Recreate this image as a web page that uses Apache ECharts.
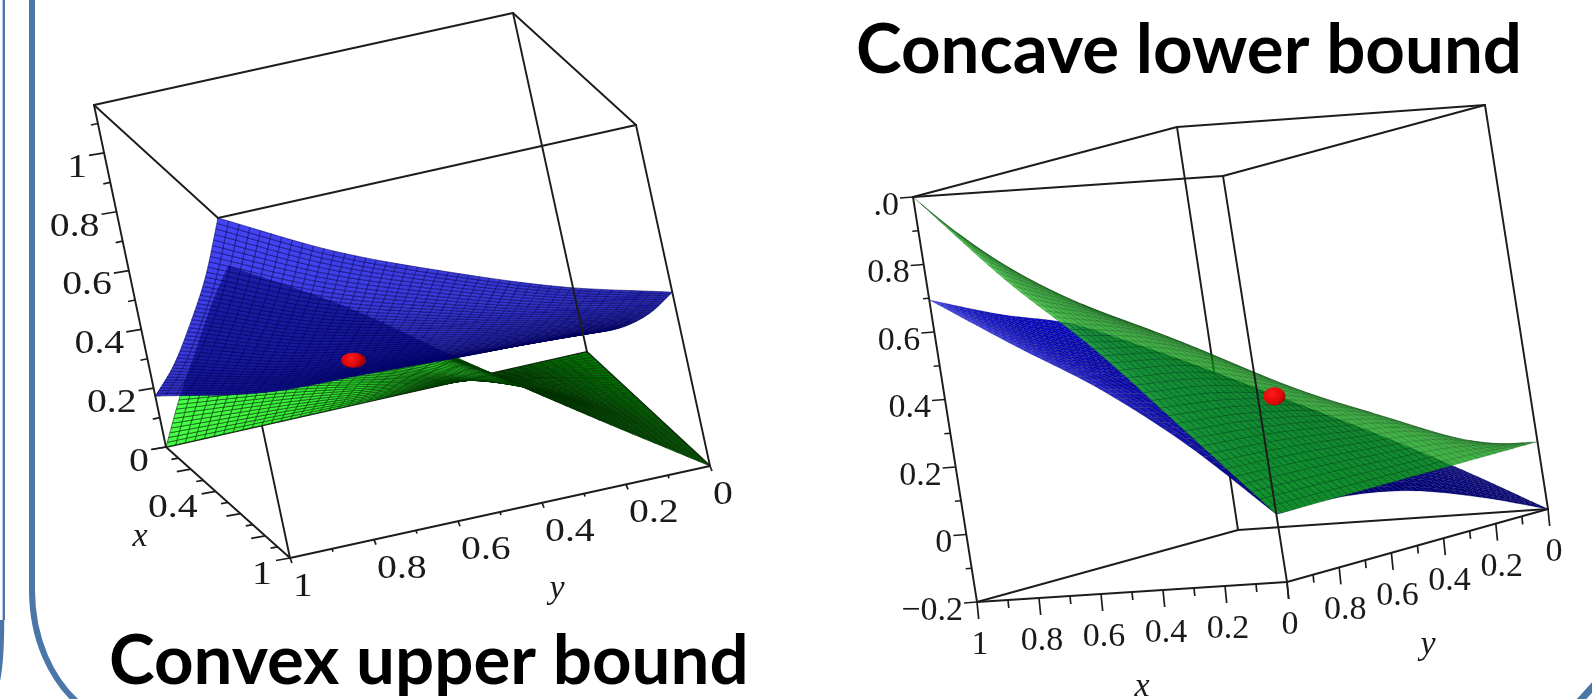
<!DOCTYPE html>
<html>
<head>
<meta charset="utf-8">
<style>html,body{margin:0;padding:0;background:#fff;overflow:hidden}#c{width:1592px;height:699px}</style>
<script src="https://cdn.jsdelivr.net/npm/echarts@6/dist/echarts.min.js"></script>
</head>
<body>
<div id="c"></div>
<script>
// ---------- values ----------
const gridSteps = [0, 0.25, 0.5, 0.75, 1];
// rows: x = gridSteps, columns: y = gridSteps
const leftBlueZ = [
  [0.069, 0.075, 0.09, 0.105, 0.173],
  [0.17, 0.195, 0.234, 0.279, 0.374],
  [0.29, 0.337, 0.405, 0.484, 0.61],
  [0.43, 0.50, 0.596, 0.708, 0.865],
  [0.593, 0.69, 0.82, 0.97, 1.163]
];
const leftGreenZ = [
  [0, 0, 0, 0, 0],
  [0, 0.085, 0.15, 0.22, 0.27],
  [0, 0.15, 0.29, 0.42, 0.52],
  [0, 0.215, 0.43, 0.62, 0.77],
  [0, 0.25, 0.51, 0.78, 1.0]
];
const rightBlueZ = [
  [-0.2, -0.11, -0.038, -0.002, 0],
  [-0.07, 0.04, 0.13, 0.187, 0.22],
  [0.05, 0.17, 0.275, 0.346, 0.4],
  [0.16, 0.285, 0.395, 0.472, 0.544],
  [0.27, 0.40, 0.52, 0.6, 0.695]
];
const rightGreenZ = [
  [0, 0, 0, 0, 0],
  [0, 0.14, 0.2, 0.24, 0.262],
  [0, 0.21, 0.37, 0.47, 0.52],
  [0, 0.24, 0.47, 0.62, 0.742],
  [0, 0.26, 0.5, 0.75, 1.0]
];
const leftRedPoint = [0.34, 0.61, 0.3];
const rightRedPoint = [0.47, 0.40, 0.25];

const leftZTickValues = [0, 0.1, 0.2, 0.3, 0.4, 0.5, 0.6, 0.7, 0.8, 0.9, 1, 1.1];
const leftXTickValues = [0, 0.1, 0.2, 0.3, 0.4, 0.5, 0.6, 0.7, 0.8, 0.9, 1];
const leftYTickValues = [0, 0.1, 0.2, 0.3, 0.4, 0.5, 0.6, 0.7, 0.8, 0.9, 1];
const rightZTickValues = [-0.2, -0.1, 0, 0.1, 0.2, 0.3, 0.4, 0.5, 0.6, 0.7, 0.8, 0.9, 1];
const rightXTickValues = [0, 0.1, 0.2, 0.3, 0.4, 0.5, 0.6, 0.7, 0.8, 0.9, 1];
const rightYTickValues = [0, 0.1, 0.2, 0.3, 0.4, 0.5, 0.6, 0.7, 0.8, 0.9, 1];

const leftZLabels = ['0', '0.2', '0.4', '0.6', '0.8', '1'];
const leftXLabels = ['0.4', '1'];
const leftYLabels = ['0', '0.2', '0.4', '0.6', '0.8', '1'];
const rightZLabels = ['\u22120.2', '0', '0.2', '0.4', '0.6', '0.8', '.0'];
const rightXLabels = ['0', '0.2', '0.4', '0.6', '0.8', '1'];
const rightYLabels = ['0', '0.2', '0.4', '0.6', '0.8'];
const leftTitle = 'Convex upper bound';
const rightTitle = 'Concave lower bound';

// ---------- layout: the two boxes as the picture projects them ----------
const leftBox = {
  zMin: 0, zMax: 1.163,
  b00: [587, 352], b01: [166, 447], b10: [710, 466], b11: [290, 558],
  t00: [513, 13], t01: [94, 105], t10: [636, 125], t11: [218, 218]
};
const rightBox = {
  zMin: -0.2, zMax: 1.0,
  b00: [1548, 509], b01: [1287, 582], b10: [1238, 530], b11: [977, 602],
  t00: [1485, 105], t01: [1223, 176], t10: [1177, 127], t11: [913, 197]
};
function project(box, x, y, z) {
  const f = (z - box.zMin) / (box.zMax - box.zMin);
  const out = [0, 0];
  for (let k = 0; k < 2; k++) {
    const bot = (1 - x) * ((1 - y) * box.b00[k] + y * box.b01[k]) + x * ((1 - y) * box.b10[k] + y * box.b11[k]);
    const top = (1 - x) * ((1 - y) * box.t00[k] + y * box.t01[k]) + x * ((1 - y) * box.t10[k] + y * box.t11[k]);
    out[k] = bot + f * (top - bot);
  }
  return out;
}
// smooth drawing between the read nodes
function cr(p0, p1, p2, p3, t) {
  return 0.5 * (2 * p1 + (p2 - p0) * t + (2 * p0 - 5 * p1 + 4 * p2 - p3) * t * t + (3 * p1 - p0 - 3 * p2 + p3) * t * t * t);
}
function line1(arr, u) {
  const n = arr.length - 1, s = Math.min(u * n, n - 1e-9), i = Math.floor(s), t = s - i;
  const g = k => k < 0 ? 2 * arr[0] - arr[1] : k > n ? 2 * arr[n] - arr[n - 1] : arr[k];
  return cr(g(i - 1), g(i), g(i + 1), g(i + 2), t);
}
function surfZ(grid, u, v) { return line1(grid.map(r => line1(r, v)), u); }
const CELLS = 44;
function buildNodes(box, grid) {
  const nodes = [];
  for (let i = 0; i <= CELLS; i++) {
    nodes.push([]);
    for (let j = 0; j <= CELLS; j++) {
      const u = i / CELLS, v = j / CELLS;
      nodes[i].push(project(box, u, v, surfZ(grid, u, v)));
    }
  }
  return nodes;
}
function outline(nodes) {
  const o = [];
  for (let j = 0; j <= CELLS; j++) o.push(nodes[0][j]);
  for (let i = 1; i <= CELLS; i++) o.push(nodes[i][CELLS]);
  for (let j = CELLS - 1; j >= 0; j--) o.push(nodes[CELLS][j]);
  for (let i = CELLS - 1; i > 0; i--) o.push(nodes[i][0]);
  return o;
}
function lerpColor(a, b, s, alpha) {
  const c = a.map((v, k) => Math.round(v + (b[k] - v) * s));
  return 'rgba(' + c[0] + ',' + c[1] + ',' + c[2] + ',' + alpha + ')';
}
function meshSeries(name, box, grid, look, z, depth) {
  const nodes = buildNodes(box, grid);
  let cells = [];
  let maxA = 0;
  for (let i = 0; i < CELLS; i++) for (let j = 0; j < CELLS; j++) {
    const q = [nodes[i][j], nodes[i + 1][j], nodes[i + 1][j + 1], nodes[i][j + 1]];
    let a = 0;
    for (let k = 0; k < 4; k++) { const p = q[k], r = q[(k + 1) % 4]; a += p[0] * r[1] - r[0] * p[1]; }
    a /= 2;
    cells.push({ i, j, a, d: depth(i / CELLS, j / CELLS) });
    maxA = Math.max(maxA, Math.abs(a));
  }
  const refCell = cells.find(c => c.i === look.ref[0] && c.j === look.ref[1]);
  const sign = Math.sign(refCell.a);
  // the side facing away is painted first, the lit side lies over it
  cells.forEach(c => { if (Math.sign(c.a) !== sign) c.d -= 100; });
  if (look.frontOnly) cells = cells.filter(c => Math.sign(c.a) === sign);
  cells.sort((p, q) => p.d - q.d);
  return {
    nodes,
    series: {
      type: 'custom', name, z, silent: true, animation: false, clip: false, progressive: 0,
      encode: { x: 0, y: 1 },
      data: cells.map(c => [c.i, c.j, c.a]),
      renderItem(params, api) {
        const i = api.value(0), j = api.value(1), a = api.value(2);
        const pts = [nodes[i][j], nodes[i + 1][j], nodes[i + 1][j + 1], nodes[i][j + 1]].map(p => api.coord(p));
        const s = Math.pow(Math.abs(a) / maxA, look.gamma);
        const pal = Math.sign(a) === sign ? look.front : look.back;
        const fill = look.paint ? look.paint(i / CELLS, j / CELLS, s) : lerpColor(pal[0], pal[1], s, look.alpha);
        return {
          type: 'polygon', shape: { points: pts },
          style: { fill, stroke: look.stroke, lineWidth: look.lw }
        };
      }
    }
  };
}
function listSeries(name, items, z, draw) {
  return {
    type: 'custom', name, z, silent: true, animation: false, clip: false, progressive: 0,
    encode: { x: 0, y: 1 },
    data: items.map((_, i) => [i, 0]),
    renderItem(params, api) { return draw(items[api.value(0)], api); }
  };
}
const INK = '#1c1c1c';
function edgeEl(box, e, api, w, col) {
  const a = api.coord(project(box, e[0], e[1], e[2])), b = api.coord(project(box, e[3], e[4], e[5]));
  return { type: 'line', shape: { x1: a[0], y1: a[1], x2: b[0], y2: b[1] }, style: { stroke: col || INK, lineWidth: w || 1.9, lineCap: 'round' } };
}
function tickSeries(name, box, ticks, point, major, minor, z) {
  return listSeries(name, ticks, z, (t, api) => {
    const a = project(box, ...point(t));
    const isMajor = Math.abs(Math.round(t * 10) % 2) === 0;
    const d = isMajor ? major : minor;
    const p = api.coord(a), q = api.coord([a[0] + d[0], a[1] + d[1]]);
    return { type: 'line', shape: { x1: p[0], y1: p[1], x2: q[0], y2: q[1] }, style: { stroke: INK, lineWidth: 1.7 } };
  });
}
function labelSeries(name, box, labels, point, off, align, font, scaleX, z) {
  return listSeries(name, labels, z, (t, api) => {
    const raw = t === '.0' ? 1 : parseFloat(t.replace('\u2212', '-'));
    const a = project(box, ...point(raw));
    const p = api.coord([a[0] + off[0], a[1] + off[1]]);
    return {
      type: 'text', x: p[0], y: p[1], scaleX: scaleX || 1,
      style: { text: t, font: font, fill: '#1a1a1a', align: align, verticalAlign: 'middle' }
    };
  });
}
function freeText(name, text, pos, font, z) {
  return listSeries(name, [text], z, (t, api) => {
    const p = api.coord(pos);
    return { type: 'text', x: p[0], y: p[1], style: { text: t, font: font, fill: '#1a1a1a', align: 'center', verticalAlign: 'middle' } };
  });
}
function redBall(name, box, pt, rx, ry, z) {
  return listSeries(name, [pt], z, (t, api) => {
    const c = api.coord(project(box, t[0], t[1], t[2]));
    return {
      type: 'ellipse', shape: { cx: c[0], cy: c[1], rx: rx, ry: ry },
      style: { fill: { type: 'radial', x: 0.4, y: 0.35, r: 0.75, colorStops: [{ offset: 0, color: '#ff1a1a' }, { offset: 0.7, color: '#e00808' }, { offset: 1, color: '#a80000' }] } }
    };
  });
}

const F_L = '34px "Liberation Serif"';
const F_X = 'italic 34px "Liberation Serif"';

// ---------- left chart ----------
const lGreen = meshSeries('Left lower surface', leftBox, leftGreenZ, {
  ref: [4, 40], gamma: 0.5, alpha: 1, lw: 0.9, stroke: 'rgba(0,50,0,0.65)',
  front: [[0, 175, 0], [70, 255, 70]], back: [[0, 8, 0], [0, 150, 0]]
}, 4, (u, v) => u + v);
const lBlue = meshSeries('Left upper surface', leftBox, leftBlueZ, {
  ref: [40, 40], gamma: 0.4, alpha: 1, lw: 0.9, stroke: 'rgba(0,0,90,0.6)',
  front: [[5, 5, 90], [68, 68, 245]], back: [[5, 5, 90], [68, 68, 245]]
}, 5, (u, v) => u + v);
const leftOverlap = listSeries('Left overlap shade', [0], 6, (t, api) => ({
  type: 'polygon',
  shape: { points: outline(lGreen.nodes).map(p => api.coord(p)) },
  style: { fill: 'rgba(0,0,110,0.55)' },
  clipPath: { type: 'polygon', shape: { points: outline(lBlue.nodes).map(p => api.coord(p)) } }
}));
const leftBackEdges = [
  [1, 1, 0, 1, 1, 1.0],
  [0, 0, 0, 0, 1, 0],
  [0, 0, 0, 1, 0, 0]
];
const leftFrontEdges = [
  [0, 1, 1.163, 1, 1, 1.163], [1, 1, 1.163, 1, 0, 1.163], [1, 0, 1.163, 0, 0, 1.163], [0, 0, 1.163, 0, 1, 1.163],
  [0, 1, 0, 0, 1, 1.163], [1, 0, 0, 1, 0, 1.163], [0, 0, 0, 0, 0, 1.163],
  [0, 1, 0, 1, 1, 0], [1, 1, 0, 1, 0, 0]
];

// ---------- right chart ----------
const rBlue = meshSeries('Right lower surface', rightBox, rightBlueZ, {
  ref: [40, 40], gamma: 0.7, alpha: 1, lw: 0.5, stroke: 'rgba(0,0,60,0.35)',
  front: [[0, 0, 110], [80, 80, 255]], back: [[0, 0, 110], [80, 80, 255]],
  // navy towards x = 0, deep blue towards x = 1, pale along the y = 1 rim
  paint(u, v) {
    const rim = Math.pow(v, 10);
    const base = 120 + 95 * u;
    return lerpColor([0, 0, base], [95, 95, 255], rim * u, 1);
  }
}, 24, (u, v) => v);
const rGreen = meshSeries('Right upper surface', rightBox, rightGreenZ, {
  ref: [2, 42], frontOnly: true, gamma: 0.5, alpha: 0.8, lw: 0.6, stroke: 'rgba(0,60,0,0.35)',
  front: [[10, 110, 25], [20, 175, 25]], back: [[10, 110, 25], [20, 175, 25]],
  // lit rim along the y = 1 edge
  paint(u, v, s) {
    const base = lerpColor([10, 110, 25], [20, 175, 25], s, 0.8).match(/\d+/g).slice(0, 3).map(Number);
    return lerpColor(base, [75, 240, 75], Math.pow(v, 24) * u, 0.8);
  }
}, 25, (u, v) => v);
const rightBackEdges = [
  [1, 0, -0.2, 1, 0, 1.0],
  [1, 1, -0.2, 1, 0, -0.2],
  [1, 0, -0.2, 0, 0, -0.2]
];
const rightFrontEdges = [
  [1, 1, 1, 0, 1, 1], [0, 1, 1, 0, 0, 1], [0, 0, 1, 1, 0, 1], [1, 0, 1, 1, 1, 1],
  [1, 1, -0.2, 1, 1, 1], [0, 1, -0.2, 0, 1, 1], [0, 0, -0.2, 0, 0, 1],
  [1, 1, -0.2, 0, 1, -0.2], [0, 1, -0.2, 0, 0, -0.2]
];

const series = [
  // left
  listSeries('Left back edges', leftBackEdges, 2, (e, api) => edgeEl(leftBox, e, api)),
  lGreen.series, lBlue.series, leftOverlap,
  listSeries('Left front edges', leftFrontEdges, 7, (e, api) => edgeEl(leftBox, e, api)),
  redBall('Left point', leftBox, leftRedPoint, 12.5, 7.5, 8),
  tickSeries('Left z ticks', leftBox, leftZTickValues, z => [0, 1, z], [-15, 2.5], [-7, 1.5], 9),
  tickSeries('Left x ticks', leftBox, leftXTickValues, x => [x, 1, 0], [-14, 2.5], [-7, 1.2], 9),
  tickSeries('Left y ticks', leftBox, leftYTickValues, y => [1, y, 0], [2, 5], [1, 3], 9),
  labelSeries('Left z labels', leftBox, leftZLabels, z => [0, 1, z], [-17, 15], 'right', F_L, 1.17, 10),
  labelSeries('Left x labels', leftBox, leftXLabels, x => [x, 1, 0], [-18, 17], 'right', F_L, 1.17, 10),
  labelSeries('Left y labels', leftBox, leftYLabels, y => [1, y, 0], [3, 29], 'left', F_L, 1.17, 10),
  freeText('Left x name', 'x', [140, 537], F_X, 10),
  freeText('Left y name', 'y', [557, 589], F_X, 10),
  // right
  listSeries('Right back edges', rightBackEdges, 22, (e, api) => edgeEl(rightBox, e, api)),
  rBlue.series, rGreen.series,
  listSeries('Right front edges', rightFrontEdges, 27, (e, api) => edgeEl(rightBox, e, api)),
  redBall('Right point', rightBox, rightRedPoint, 11, 9, 28),
  tickSeries('Right z ticks', rightBox, rightZTickValues, z => [1, 1, z], [-13, 1], [-6, 0.5], 29),
  tickSeries('Right x ticks', rightBox, rightXTickValues, x => [x, 1, -0.2], [1.7, 17], [0.8, 8], 29),
  tickSeries('Right y ticks', rightBox, rightYTickValues, y => [0, y, -0.2], [1.7, 17], [0.8, 8], 29),
  labelSeries('Right z labels', rightBox, rightZLabels, z => [1, 1, z], [-14, 9], 'right', F_L, 1, 30),
  labelSeries('Right x labels', rightBox, rightXLabels, x => [x, 1, -0.2], [3, 43], 'center', F_L, 1, 30),
  labelSeries('Right y labels', rightBox, rightYLabels, y => [0, y, -0.2], [6, 43], 'center', F_L, 1, 30),
  freeText('Right x name', 'x', [1142, 687], F_X, 30),
  freeText('Right y name', 'y', [1428, 645], F_X, 30)
];

// decorative slide frame
const FRAME = '#4a76a8';
const frame = [
  { type: 'line', shape: { x1: 32, y1: -2, x2: 32, y2: 590 }, style: { stroke: FRAME, lineWidth: 6 } },
  { type: 'bezierCurve', shape: { x1: 32, y1: 590, cpx1: 32, cpy1: 640, cpx2: 52, cpy2: 680, x2: 78, y2: 703 }, style: { stroke: FRAME, lineWidth: 6, fill: 'none' } },
  { type: 'line', shape: { x1: 3.8, y1: -2, x2: 3.8, y2: 620 }, style: { stroke: FRAME, lineWidth: 2.4 } },
  { type: 'bezierCurve', shape: { x1: 2, y1: 620, cpx1: 2, cpy1: 650, cpx2: 1, cpy2: 665, x2: -2, y2: 680 }, style: { stroke: FRAME, lineWidth: 4.5, fill: 'none' } },
  { type: 'line', shape: { x1: 1578, y1: 703, x2: 1596, y2: 683 }, style: { stroke: FRAME, lineWidth: 7 } }
].map(e => Object.assign({ silent: true, z: 0 }, e));

const chart = echarts.init(document.getElementById('c'), null, { renderer: 'canvas', width: 1592, height: 699 });
chart.setOption({
  animation: false,
  backgroundColor: '#ffffff',
  title: [
    { text: leftTitle, left: 109, top: 627, padding: 0, textStyle: { fontFamily: 'Lato', fontWeight: 'bold', fontSize: 69, color: '#000', lineHeight: 70 } },
    { text: rightTitle, left: 856, top: 16, padding: 0, textStyle: { fontFamily: 'Lato', fontWeight: 'bold', fontSize: 69, color: '#000', lineHeight: 70 } }
  ],
  grid: { left: 0, right: 0, top: 0, bottom: 0 },
  xAxis: { type: 'value', min: 0, max: 1592, show: false },
  yAxis: { type: 'value', min: 0, max: 699, inverse: true, show: false },
  graphic: { elements: frame },
  series
});
</script>
</body>
</html>
